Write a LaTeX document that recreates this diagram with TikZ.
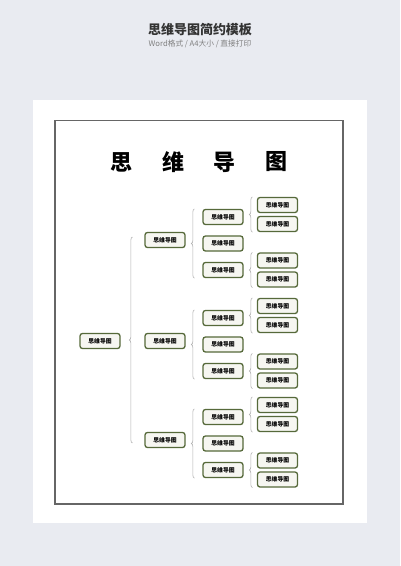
\documentclass[tikz,border=0pt]{standalone}
\usepackage{fontspec}
\setmainfont{Noto Sans CJK SC}
\usetikzlibrary{decorations.pathreplacing}

\definecolor{bgcol}{HTML}{E9EBF1}
\definecolor{framecol}{HTML}{666666}
\definecolor{boxline}{HTML}{56693A}
\definecolor{boxfill}{HTML}{F6F6F1}
\definecolor{brcol}{HTML}{B0B0B0}

\tikzset{
  mapbox/.style={draw=boxline, line width=1.3pt, rounded corners=2.5pt, fill=boxfill,
    minimum width=40pt, minimum height=15pt, inner sep=0pt,
    font=\fontsize{5.8}{6}\selectfont\bfseries},
  brc/.style={draw=brcol, line width=0.6pt, decorate, decoration={brace, amplitude=3pt}},
}

\begin{document}
\begin{tikzpicture}[x=1pt,y=-1pt]
    % Fondo e pagina
    \fill[bgcol] (0,0) rectangle (400,566);
    \useasboundingbox (0,0) rectangle (400,566);
    \fill[white] (33,100) rectangle (367,523);
    \draw[framecol, line width=1.2pt] (55,120.5) rectangle (343,504);

    % Titoli
    \node[font=\fontsize{13}{14}\selectfont\bfseries, text=black!80] (title) at (200,30) {思维导图简约模板};
    \node[font=\fontsize{7.7}{8}\selectfont, text=black!50] (sub) at (200,43.5) {Word格式 / A4大小 / 直接打印};

    % Intestazione
    \foreach \c [count=\i from 0] in {思,维,导,图}
        \node[font=\fontsize{22}{22}\selectfont\bfseries] (h\i) at (121.5+51.5*\i,162) {\c};

    % Radice
    \node[mapbox] (root) at (100,341) {思维导图};

    % Rami
    \foreach \g/\y in {1/240,2/341,3/440} {
        \node[mapbox] (n\g) at (165,\y) {思维导图};
        \foreach \k/\dy in {1/-23,2/3.5,3/30}
            \node[mapbox] (n\g\k) at (223,\y+\dy) {思维导图};
        \draw[brc] ([xshift=-8pt]n\g3.south west) -- ([xshift=-8pt]n\g1.north west);
        % Foglie
        \foreach \k/\dy/\a/\b in {1/-23/-12/7,3/30/-9.5/9.5} {
            \node[mapbox] (n\g\k a) at (277.5,\y+\dy+\a) {思维导图};
            \node[mapbox] (n\g\k b) at (277.5,\y+\dy+\b) {思维导图};
            \draw[brc] ([xshift=-4.5pt]n\g\k b.south west) -- ([xshift=-4.5pt]n\g\k a.north west);
        }
    }
    \draw[brc] ([xshift=-12pt,yshift=-3pt]n3.west) -- ([xshift=-12pt,yshift=3pt]n1.west);
\end{tikzpicture}
\end{document}
